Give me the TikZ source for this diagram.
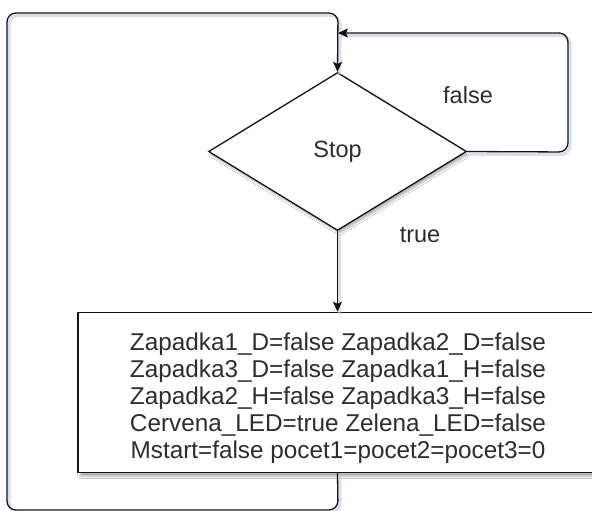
\documentclass[tikz,border=0pt]{standalone}
\usepackage{fontspec}
\setmainfont{Liberation Sans}
\usetikzlibrary{shapes.geometric,arrows.meta,shadows.blur}

\definecolor{ink}{RGB}{20,20,20}
\definecolor{txt}{RGB}{45,45,45}
\definecolor{shade}{RGB}{196,200,224}

\tikzset{
  lshadow/.style={preaction={draw=shade, -, line width=3.4pt, opacity=0.6,
      transform canvas={shift={(2pt,-2.5pt)}}}},
  flow/.style={draw=ink, line width=1.3pt, rounded corners=9pt, lshadow,
      -{Stealth[length=10pt,width=9pt,inset=2pt]}},
  decision/.style={diamond, draw=ink, line width=1.3pt, fill=white,
      minimum width=258pt, minimum height=158pt, inner sep=0pt,
      blur shadow={shadow xshift=2pt, shadow yshift=-3pt, shadow opacity=30, shadow blur steps=6},
      font=\fontsize{23.5}{27}\selectfont, text=txt},
  actionbox/.style={rectangle, draw=ink, line width=1.5pt, fill=white,
      minimum width=520pt, minimum height=160pt, inner sep=0pt,
      blur shadow={shadow xshift=2pt, shadow yshift=-4pt, shadow opacity=30, shadow blur steps=6},
      font=\fontsize{24.3}{27}\selectfont, text=txt},
  lbl/.style={font=\fontsize{23.5}{27}\selectfont, text=txt, inner sep=0pt},
}

\begin{document}
\begin{tikzpicture}[x=1pt, y=-1pt]
  \useasboundingbox (0,0) rectangle (592,511);
  \clip (0,0) rectangle (592,511);
  \fill[white] (0,0) rectangle (592,511);

  % decision and the reset block below it
  \coordinate (join) at (338,33);
  \node[decision] (stop) at (337.5,151.5) {Stop};
  \node[actionbox] (reset) at (338,392.5) {\raisebox{-7pt}[\height][\depth]{%
    \renewcommand{\arraystretch}{1}%
    \begin{tabular}{@{}c@{}}
    Zapadka1\_D=false Zapadka2\_D=false\\
    Zapadka3\_D=false Zapadka1\_H=false\\
    Zapadka2\_H=false Zapadka3\_H=false\\
    Cervena\_LED=true Zelena\_LED=false\\
    Mstart=false pocet1=pocet2=pocet3=0
    \end{tabular}}};

  % outer loop from the block back to the decision
  \draw[flow] (reset.south -| stop.north) -- (338,510) -- (7,510) -- (7,13) -- (338,13) -- (stop.north);
  % false branch returns to the top
  \draw[flow] (stop.east) -- (568,152) -- (568,33) -- (join);
  % true branch
  \draw[flow] (stop.south) -- (reset.north -| stop.south);

  \node[lbl] (lfalse) at (468,95) {false};
  \node[lbl] (ltrue) at (420,235) {true};
\end{tikzpicture}
\end{document}
